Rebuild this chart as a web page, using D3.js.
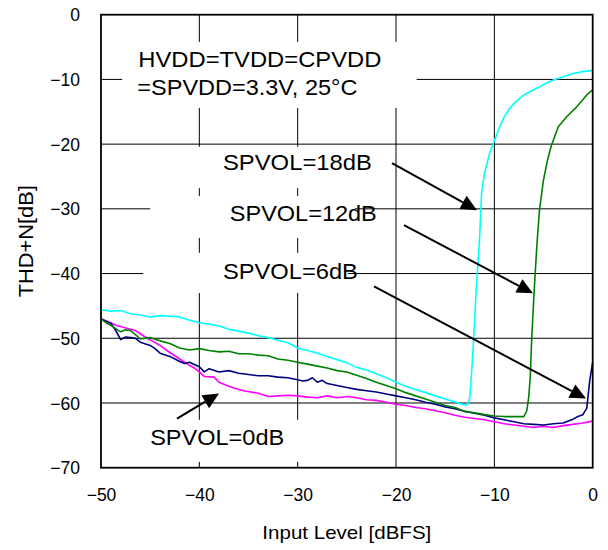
<!DOCTYPE html>
<html><head><meta charset="utf-8">
<script src="https://cdn.jsdelivr.net/npm/d3@7"></script>
<style>body{margin:0;background:#fff}svg{display:block}text{font-family:Arial,"Liberation Sans",sans-serif;fill:#000}</style>
</head><body>
<svg id="c" width="608" height="550"></svg>
<script>
// ---- data ----
const xTicks = [-50, -40, -30, -20, -10, 0];
const yTicks = [0, -10, -20, -30, -40, -50, -60, -70];

const x18 = [-50,-49,-48,-47,-46,-45,-44,-43,-42,-41,-40,-39,-38,-37,-36,-35,-34,-33,-32,-31,-30,-29,-28,-27,-26,-25,-24,-23,-22,-21,-20,-19,-18,-17,-16,-15,-14,-13.5,-13,-12.7,-12.5,-12.3,-12.1,-11.9,-11.7,-11.5,-11.3,-11,-10.5,-10,-9.5,-9,-8.5,-8,-7,-6,-5,-4,-3,-2,-1,0];
const y18 = [-45.6,-45.8,-45.7,-46.2,-46.4,-46.7,-46.5,-46.6,-46.7,-47.2,-47.6,-47.8,-48.1,-48.6,-48.9,-49.2,-49.6,-49.9,-50.3,-50.7,-51.5,-51.9,-52.3,-52.8,-53.3,-53.8,-54.5,-54.9,-55.5,-56.1,-56.8,-57.4,-57.9,-58.4,-58.9,-59.4,-59.8,-60.1,-60.3,-60.2,-59.2,-55,-50,-44,-39,-34.5,-27.5,-24.5,-21.5,-19.5,-17.5,-15.8,-14.6,-13.7,-12.4,-11.6,-10.8,-10.1,-9.6,-9.1,-8.8,-8.6];

const x12 = [-50,-49.5,-49,-48,-47.5,-47,-46,-45,-44,-43,-42,-41,-40,-39,-38,-37,-36,-35,-34,-33,-32,-31,-30,-29,-28,-27,-26,-25,-24,-23,-22,-21,-20,-19,-18,-17,-16,-15,-14,-13,-12,-11,-10,-9,-8,-7,-6.7,-6.5,-6.35,-6.2,-6.05,-5.85,-5.65,-5.4,-5,-4.6,-4.2,-3.5,-2.6,-1.6,-0.6,0];
const y12 = [-47.0,-47.6,-48.0,-49.0,-48.7,-48.8,-50.1,-49.9,-50.4,-50.8,-51.5,-51.8,-51.6,-51.9,-52.1,-52.0,-52.4,-52.4,-52.6,-52.7,-53.2,-53.4,-53.7,-54.0,-54.3,-54.6,-55.0,-55.2,-55.7,-56.2,-56.8,-57.3,-57.8,-58.4,-58.9,-59.4,-59.9,-60.4,-60.7,-61.3,-61.5,-61.8,-62.0,-62.1,-62.1,-62.1,-61.2,-59,-56,-50,-45.5,-40,-35,-30,-25.5,-22.5,-20.2,-17.3,-15.7,-14.2,-12.4,-11.6];

const x6 = [-50,-49,-48.5,-48,-47.5,-47,-46.5,-46,-45,-44.5,-44,-43,-42,-41.5,-41,-40,-39.5,-39,-38,-37,-36,-35,-34,-33,-32,-31,-30,-29.5,-29,-28.5,-28,-27.5,-27,-26,-25,-24,-23,-22,-21,-20,-19,-18,-17,-16,-15,-14,-13,-12,-11,-10,-9,-8,-7,-6,-5,-4,-3,-2,-1.5,-1,-0.6,-0.3,0];
const y6 = [-47.0,-47.7,-48.8,-50.2,-49.8,-49.9,-50.0,-50.6,-51.1,-51.6,-52.3,-52.8,-53.6,-53.9,-53.7,-54.4,-55.2,-54.7,-55.2,-55.0,-55.4,-55.6,-55.8,-55.8,-56.0,-56.1,-56.4,-56.6,-56.5,-56.1,-56.8,-56.5,-57.0,-57.3,-57.6,-57.9,-58.1,-58.3,-58.6,-58.9,-59.2,-59.5,-59.9,-60.2,-60.6,-60.9,-61.3,-61.6,-61.9,-62.3,-62.6,-62.9,-63.2,-63.3,-63.4,-63.2,-63.1,-62.5,-62.1,-61.8,-60.8,-56.5,-53.7];

const x0 = [-50,-49,-48.5,-47,-46.5,-45.5,-44,-43,-42.5,-41.5,-41,-40.5,-40,-39.5,-38.5,-38,-37,-36.5,-35.5,-34,-33,-32,-31,-30,-29,-28,-27,-26,-25,-24,-23,-22,-21,-20,-19,-18,-17,-16,-15,-14,-13,-12,-11,-10,-9,-8,-7,-6,-5,-4,-3,-2,-1,0];
const y0 = [-47.0,-47.6,-48.0,-48.6,-48.8,-49.8,-51.1,-52.2,-52.7,-53.7,-54.2,-54.6,-55.2,-55.9,-56.0,-56.8,-57.4,-57.7,-58.1,-58.5,-59.0,-58.9,-58.8,-58.9,-59.1,-59.2,-58.9,-59.2,-59.0,-59.2,-59.5,-59.6,-59.9,-60.2,-60.4,-60.7,-60.9,-61.2,-61.5,-61.9,-62.2,-62.4,-62.6,-62.9,-63.2,-63.4,-63.6,-63.8,-63.6,-63.8,-63.5,-63.3,-63.1,-62.8];

const seriesNames = ["SPVOL=18dB", "SPVOL=12dB", "SPVOL=6dB", "SPVOL=0dB"];
const seriesColors = ["#00FFFF", "#008000", "#000080", "#FF00FF"];

// ---- chart ----
const svg = d3.select("#c");
const X = d3.scaleLinear().domain([-50, 0]).range([101, 592.7]);
const Y = d3.scaleLinear().domain([0, -70]).range([14.7, 467.7]);

// gridlines
const g = svg.append("g");
g.selectAll(".hg").data(yTicks.filter(v => v < 0 && v > -70)).join("line")
  .attr("x1", X(-50)).attr("x2", X(0)).attr("y1", d => Y(d)).attr("y2", d => Y(d))
  .attr("stroke", "#000").attr("stroke-width", 1);
g.selectAll(".vg").data(xTicks.filter(v => v > -50 && v < 0)).join("line")
  .attr("y1", Y(0)).attr("y2", Y(-70)).attr("x1", d => X(d)).attr("x2", d => X(d))
  .attr("stroke", "#000").attr("stroke-width", 1);

// white text boxes (cover gridlines), in data units
const boxes = [
  [-47.85, -4.2, -17.9, -14.4],
  [-45.7, -20.4, -24.8, -26.8],
  [-45.0, -28.0, -24.2, -34.5],
  [-45.7, -36.8, -24.9, -43.0],
  [-48.6, -62.6, -27.7, -69.1]
];
svg.append("g").selectAll("rect").data(boxes).join("rect")
  .attr("x", d => X(d[0])).attr("y", d => Y(d[1]))
  .attr("width", d => X(d[2]) - X(d[0])).attr("height", d => Y(d[3]) - Y(d[1]))
  .attr("fill", "#fff");

// lines
const allX = [x18, x12, x6, x0], allY = [y18, y12, y6, y0];
const line = d3.line().x(d => X(d[0])).y(d => Y(d[1]));
const order = [3, 2, 1, 0];
svg.append("g").selectAll("path").data(order).join("path")
  .attr("d", i => line(d3.zip(allX[i], allY[i])))
  .attr("fill", "none").attr("stroke", i => seriesColors[i]).attr("stroke-width", 1.6)
  .attr("stroke-linejoin", "round");

// frame
svg.append("rect").attr("x", X(-50)).attr("y", Y(0))
  .attr("width", X(0) - X(-50)).attr("height", Y(-70) - Y(0))
  .attr("fill", "none").attr("stroke", "#000").attr("stroke-width", 1.8);

// axes labels
const xAxis = d3.axisBottom(X).tickValues(xTicks).tickSize(0).tickPadding(0).tickFormat(d3.format("d"));
const xa = svg.append("g").attr("transform", `translate(0,${Y(-70)})`).call(xAxis);
xa.select(".domain").remove();
xa.selectAll("text").attr("dy", null).attr("y", 33).attr("font-size", 17.5)
  .attr("font-family", "Arial, 'Liberation Sans', sans-serif").attr("fill", "#000");

const yAxis = d3.axisLeft(Y).tickValues(yTicks).tickSize(0).tickPadding(0).tickFormat(d3.format("d"));
const ya = svg.append("g").attr("transform", `translate(80,0)`).call(yAxis);
ya.select(".domain").remove();
ya.selectAll("text").attr("dy", "0.35em").attr("x", 0).attr("font-size", 17.5)
  .attr("font-family", "Arial, 'Liberation Sans', sans-serif").attr("fill", "#000");

svg.append("text").attr("x", X(-25)).attr("y", 539).attr("text-anchor", "middle")
  .attr("font-size", 19).attr("textLength", 169).attr("lengthAdjust", "spacingAndGlyphs")
  .text("Input Level [dBFS]");
svg.append("text").attr("transform", `translate(33,${Y(-35)}) rotate(-90)`).attr("text-anchor", "middle")
  .attr("font-size", 20).attr("textLength", 112).attr("lengthAdjust", "spacingAndGlyphs")
  .text("THD+N[dB]");

// annotations (data units)
const condText = ["HVDD=TVDD=CPVDD", "=SPVDD=3.3V, 25\u00B0C"];
const condPos = [[-46.2, -8.1, 243], [-46.3, -12.4, 220]];
condText.forEach((t, i) => {
  svg.append("text").attr("x", X(condPos[i][0])).attr("y", Y(condPos[i][1]))
    .attr("font-size", 22).attr("textLength", condPos[i][2]).attr("lengthAdjust", "spacingAndGlyphs").text(t);
});
const labelPos = [[-37.6, -24.0, 149], [-36.9, -31.85, 147], [-37.6, -40.8, 135], [-45.0, -66.5, 134]];
seriesNames.forEach((t, i) => {
  svg.append("text").attr("x", X(labelPos[i][0])).attr("y", Y(labelPos[i][1]))
    .attr("font-size", 22).attr("textLength", labelPos[i][2]).attr("lengthAdjust", "spacingAndGlyphs").text(t);
});

const arrows = [
  [-20.41, -22.92, -11.77, -30.2],
  [-19.19, -32.52, -6.07, -43.05],
  [-22.24, -41.97, -0.68, -59.32],
  [-42.27, -62.41, -38.0, -58.54]
];
const ag = svg.append("g");
arrows.forEach(a => {
  const x1 = X(a[0]), y1 = Y(a[1]), x2 = X(a[2]), y2 = Y(a[3]);
  const ang = Math.atan2(y2 - y1, x2 - x1);
  const L = 16, W = 7.5;
  const bx = x2 - L * Math.cos(ang), by = y2 - L * Math.sin(ang);
  ag.append("line").attr("x1", x1).attr("y1", y1).attr("x2", bx).attr("y2", by)
    .attr("stroke", "#000").attr("stroke-width", 2);
  const px = -Math.sin(ang) * W, py = Math.cos(ang) * W;
  ag.append("path").attr("d", `M${x2},${y2}L${bx + px},${by + py}L${bx - px},${by - py}Z`).attr("fill", "#000");
});
</script>
</body></html>
